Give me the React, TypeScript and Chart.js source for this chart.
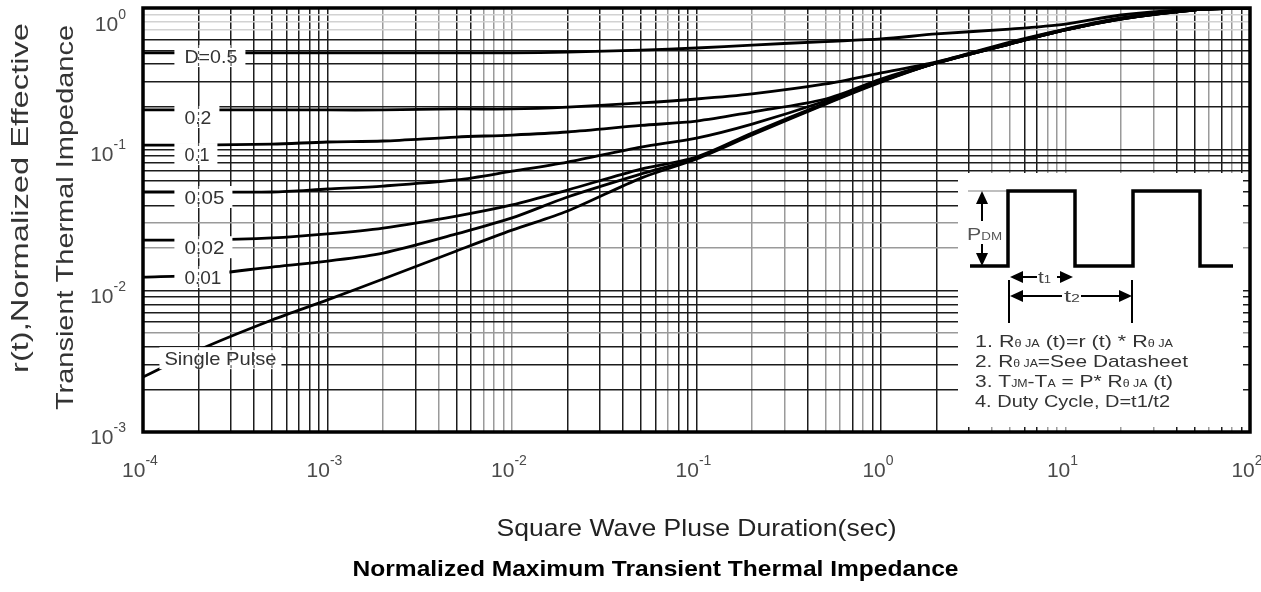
import React, { useEffect, useRef } from 'react';
import { Chart, registerables } from 'chart.js';

Chart.register(...registerables);

// ---------------- data ----------------
const PULSE_TIME = [1e-4, 2e-4, 5e-4, 1e-3, 2e-3, 5e-3, 1e-2, 2e-2, 5e-2, 0.1, 0.2, 0.5, 1, 2, 5, 10, 20, 50, 100];

const SERIES_NAMES = ['D=0.5', '0.2', '0.1', '0.05', '0.02', '0.01', 'Single Pulse'];

const R_D050 = [0.481, 0.481, 0.481, 0.481, 0.481, 0.481, 0.481, 0.488, 0.504, 0.521, 0.547, 0.579, 0.604, 0.655, 0.71, 0.77, 0.892, 0.984, 1.0];
const R_D020 = [0.19, 0.19, 0.19, 0.19, 0.19, 0.193, 0.193, 0.199, 0.213, 0.227, 0.2467, 0.29, 0.347, 0.415, 0.574, 0.71, 0.85, 0.976, 1.0];
const R_D010 = [0.1072, 0.1072, 0.109, 0.1127, 0.1145, 0.1222, 0.1262, 0.1326, 0.1476, 0.1585, 0.1837, 0.227, 0.3145, 0.412, 0.565, 0.705, 0.843, 0.972, 1.0];
const R_D005 = [0.0499, 0.0499, 0.0499, 0.0524, 0.055, 0.0607, 0.07, 0.0813, 0.1038, 0.1202, 0.151, 0.2197, 0.309, 0.408, 0.558, 0.7, 0.838, 0.969, 1.0];
const R_D002 = [0.0228, 0.0228, 0.0236, 0.0252, 0.0277, 0.0337, 0.0404, 0.0515, 0.0725, 0.0882, 0.1305, 0.2127, 0.304, 0.408, 0.557, 0.699, 0.837, 0.968, 1.0];
const R_D001 = [0.01248, 0.0129, 0.0147, 0.0162, 0.01845, 0.0252, 0.0327, 0.046, 0.0669, 0.0868, 0.1283, 0.2105, 0.302, 0.408, 0.556, 0.699, 0.836, 0.968, 1.0];
const R_SINGLE = [0.00245, 0.0038, 0.0062, 0.0086, 0.0121, 0.0191, 0.0268, 0.0366, 0.0626, 0.0854, 0.1262, 0.209, 0.299, 0.408, 0.556, 0.699, 0.836, 0.968, 1.0];

const SERIES = [R_D050, R_D020, R_D010, R_D005, R_D002, R_D001, R_SINGLE];

// curve label anchors (data units)
const LABEL_T_START = 1.48e-4;
const LABEL_VALUES = [0.457, 0.1694, 0.0926, 0.046, 0.0203, 0.01248, 0.00333];
const LABEL_WIDTHS = [53, 27, 25, 40, 40, 37, 112];

// axes
const X_MIN = 1e-4;
const X_MAX = 100;
const Y_MIN = 1e-3;
const Y_MAX = 1;
const X_MAJOR_EXP = [-4, -3, -2, -1, 0, 1, 2];
const Y_MAJOR_EXP = [-3, -2, -1, 0];
const GRID_MULT = [1, 2, 3, 4, 5, 6, 7, 8, 9];
const X_GRAY_GRID = [2e-3, 4e-3, 7e-3, 8e-3, 9e-3, 1e-2, 7e-2, 0.2, 0.3, 0.5, 0.6, 0.8, 4, 5, 8, 9, 10, 20, 30, 60, 80];
const Y_LIGHT_GRID = [0.7, 0.8, 0.9];
const Y_GRAY_GRID = [0.02, 0.03, 0.005];

const X_TITLE = 'Square Wave Pluse Duration(sec)';
const Y_TITLE_LINES = ['r(t),Normalized Effective', 'Transient Thermal Impedance'];
const CHART_TITLE = 'Normalized Maximum Transient Thermal Impedance';

const FAMILY = '"Liberation Sans", Arial, Helvetica, sans-serif';

// ---------------- helpers ----------------
function buildGrid(exps: number[]): number[] {
  const out: number[] = [];
  for (let i = 0; i < exps.length - 1; i++) {
    for (const m of GRID_MULT) out.push(Number((m * Math.pow(10, exps[i])).toPrecision(6)));
  }
  out.push(Math.pow(10, exps[exps.length - 1]));
  return out;
}
const X_GRID = buildGrid(X_MAJOR_EXP);
const Y_GRID = buildGrid(Y_MAJOR_EXP);

const inList = (list: number[], v: number) => list.some((g) => Math.abs(g - v) / g < 1e-6);

type Part = { t: string; size: number; dy?: number; bold?: boolean };

function fontOf(p: Part) {
  return `${p.bold ? 'bold ' : ''}${p.size}px ${FAMILY}`;
}

function partsWidth(ctx: CanvasRenderingContext2D, parts: Part[]) {
  let w = 0;
  for (const p of parts) {
    ctx.font = fontOf(p);
    w += ctx.measureText(p.t).width;
  }
  return w;
}

function drawParts(
  ctx: CanvasRenderingContext2D,
  parts: Part[],
  x: number,
  y: number,
  opts: { align: 'left' | 'center' | 'right'; width?: number; color: string; rotate?: number }
) {
  const natural = partsWidth(ctx, parts);
  const target = opts.width ?? natural;
  const sx = target / natural;
  ctx.save();
  ctx.translate(x, y);
  if (opts.rotate) ctx.rotate(opts.rotate);
  const start = opts.align === 'left' ? 0 : opts.align === 'center' ? -target / 2 : -target;
  ctx.translate(start, 0);
  ctx.scale(sx, 1);
  ctx.textAlign = 'left';
  ctx.textBaseline = 'alphabetic';
  ctx.fillStyle = opts.color;
  let cx = 0;
  for (const p of parts) {
    ctx.font = fontOf(p);
    ctx.fillText(p.t, cx, p.dy ?? 0);
    cx += ctx.measureText(p.t).width;
  }
  ctx.restore();
}

function arrowHead(ctx: CanvasRenderingContext2D, tipX: number, tipY: number, dir: 'up' | 'down' | 'left' | 'right', len = 12, half = 5) {
  ctx.beginPath();
  ctx.moveTo(tipX, tipY);
  if (dir === 'up') {
    ctx.lineTo(tipX - half, tipY + len);
    ctx.lineTo(tipX + half, tipY + len);
  } else if (dir === 'down') {
    ctx.lineTo(tipX - half, tipY - len);
    ctx.lineTo(tipX + half, tipY - len);
  } else if (dir === 'left') {
    ctx.lineTo(tipX + len, tipY - half);
    ctx.lineTo(tipX + len, tipY + half);
  } else {
    ctx.lineTo(tipX - len, tipY - half);
    ctx.lineTo(tipX - len, tipY + half);
  }
  ctx.closePath();
  ctx.fill();
}

function line(ctx: CanvasRenderingContext2D, pts: number[][]) {
  ctx.beginPath();
  ctx.moveTo(pts[0][0], pts[0][1]);
  for (let i = 1; i < pts.length; i++) ctx.lineTo(pts[i][0], pts[i][1]);
  ctx.stroke();
}

const overlayPlugin = {
  id: 'overlay',
  afterDatasetsDraw(chart: any) {
    const { ctx, chartArea: a, scales } = chart;
    const xs = scales.x;
    const ys = scales.y;
    ctx.save();

    // ---- curve labels with white boxes ----
    const boxLeft = xs.getPixelForValue(LABEL_T_START);
    SERIES_NAMES.forEach((name, i) => {
      const cy = ys.getPixelForValue(LABEL_VALUES[i]);
      const single = i === SERIES_NAMES.length - 1;
      const textLeft = single ? boxLeft - 10 : boxLeft + 10;
      const w = LABEL_WIDTHS[i];
      const bx0 = single ? boxLeft - 15 : boxLeft;
      const bx1 = textLeft + w + (single ? 5 : 8);
      ctx.fillStyle = '#fff';
      ctx.fillRect(bx0, cy - 11, bx1 - bx0, 22);
      ctx.save();
      ctx.setLineDash([3, 3]);
      ctx.strokeStyle = '#555';
      ctx.lineWidth = 1.2;
      for (const v of X_GRID) {
        const px = xs.getPixelForValue(v);
        if (px > bx0 + 2 && px < bx1 - 2) line(ctx, [[px, cy - 11], [px, cy + 11]]);
      }
      ctx.restore();
      drawParts(ctx, [{ t: name, size: 19 }], textLeft, cy + 7, { align: 'left', width: w, color: '#333' });
    });

    // ---- inset diagram ----
    const L = a.right - 292; // ~958
    const T = a.top + 165; // ~173
    ctx.fillStyle = '#fff';
    ctx.fillRect(L, T, a.right - 7 - L, a.bottom - 5 - T);

    const hi = T + 18;
    const lo = T + 93;
    ctx.strokeStyle = '#aaa';
    ctx.lineWidth = 1.5;
    line(ctx, [[L + 10, hi], [L + 49, hi]]);
    ctx.strokeStyle = '#000';
    ctx.lineWidth = 3.5;
    ctx.lineJoin = 'miter';
    line(ctx, [
      [L + 12, lo], [L + 50, lo], [L + 50, hi], [L + 117, hi], [L + 117, lo],
      [L + 175, lo], [L + 175, hi], [L + 242, hi], [L + 242, lo], [L + 275, lo],
    ]);
    ctx.fillStyle = '#000';
    ctx.lineWidth = 2;
    const ax = L + 24;
    line(ctx, [[ax, hi + 10], [ax, hi + 30]]);
    line(ctx, [[ax, lo - 10], [ax, lo - 22]]);
    arrowHead(ctx, ax, hi, 'up', 13, 6);
    arrowHead(ctx, ax, lo, 'down', 13, 6);
    drawParts(ctx, [{ t: 'P', size: 16 }, { t: 'DM', size: 10 }], L + 9, hi + 49, { align: 'left', width: 35, color: '#555' });

    const x1 = L + 52;
    const x2 = L + 115;
    const x3 = L + 174;
    const y1 = T + 104;
    const y2 = T + 123;
    ctx.lineWidth = 2;
    line(ctx, [[x1 - 1, y1 + 3], [x1 - 1, y2 + 27]]);
    line(ctx, [[x3, y1 + 3], [x3, y2 + 27]]);
    line(ctx, [[x1 + 10, y1], [x1 + 27, y1]]);
    line(ctx, [[x2 - 16, y1], [x2 - 10, y1]]);
    arrowHead(ctx, x1, y1, 'left', 13, 6);
    arrowHead(ctx, x2, y1, 'right', 13, 6);
    drawParts(ctx, [{ t: 't', size: 16 }, { t: '1', size: 10 }], x1 + 28, y1 + 6, { align: 'left', width: 13, color: '#444' });
    line(ctx, [[x1 + 10, y2], [x1 + 52, y2]]);
    line(ctx, [[x1 + 71, y2], [x3 - 10, y2]]);
    arrowHead(ctx, x1, y2, 'left', 13, 6);
    arrowHead(ctx, x3, y2, 'right', 13, 6);
    drawParts(ctx, [{ t: 't', size: 16 }, { t: '2', size: 10 }], x1 + 54, y2 + 6, { align: 'left', width: 16, color: '#444' });

    const nx = L + 17;
    const noteColor = '#333';
    drawParts(ctx, [
      { t: '1. R', size: 17 }, { t: 'θ JA', size: 10 }, { t: ' (t)=r (t) * R', size: 17 }, { t: 'θ JA', size: 10 },
    ], nx, T + 174, { align: 'left', width: 198, color: noteColor });
    drawParts(ctx, [
      { t: '2. R', size: 17 }, { t: 'θ JA', size: 10 }, { t: '=See Datasheet', size: 17 },
    ], nx, T + 194, { align: 'left', width: 213, color: noteColor });
    drawParts(ctx, [
      { t: '3. T', size: 17 }, { t: 'JM', size: 10 }, { t: '-T', size: 17 }, { t: 'A', size: 10 },
      { t: ' = P* R', size: 17 }, { t: 'θ JA', size: 10 }, { t: ' (t)', size: 17 },
    ], nx, T + 214, { align: 'left', width: 198, color: noteColor });
    drawParts(ctx, [{ t: '4. Duty Cycle, D=t1/t2', size: 17 }], nx, T + 234, { align: 'left', width: 195, color: noteColor });

    // ---- plot border ----
    ctx.strokeStyle = '#000';
    ctx.lineWidth = 3.5;
    ctx.strokeRect(a.left, a.top, a.right - a.left, a.bottom - a.top);

    // ---- tick labels ----
    for (const e of X_MAJOR_EXP) {
      const px = xs.getPixelForValue(Math.pow(10, e));
      drawParts(ctx, [{ t: '10', size: 21 }, { t: String(e), size: 14, dy: -12 }], px - 3, a.bottom + 45, { align: 'center', color: '#4a4a4a' });
    }
    for (const e of Y_MAJOR_EXP) {
      const py = ys.getPixelForValue(Math.pow(10, e));
      drawParts(ctx, [{ t: '10', size: 21 }, { t: String(e), size: 14, dy: -12 }], a.left - 17, Math.max(py + 12, a.top + 23), { align: 'right', color: '#4a4a4a' });
    }

    // ---- axis titles ----
    drawParts(ctx, [{ t: Y_TITLE_LINES[0], size: 24 }], 28, a.top + 15, { align: 'right', width: 350, color: '#333', rotate: -Math.PI / 2 });
    drawParts(ctx, [{ t: Y_TITLE_LINES[1], size: 24 }], 73, a.top + 17, { align: 'right', width: 385, color: '#333', rotate: -Math.PI / 2 });
    drawParts(ctx, [{ t: X_TITLE, size: 24 }], (a.left + a.right) / 2, a.bottom + 104, { align: 'center', width: 400, color: '#222' });
    drawParts(ctx, [{ t: CHART_TITLE, size: 22, bold: true }], (a.left + a.right) / 2 - 41, a.bottom + 144, { align: 'center', width: 606, color: '#000' });

    ctx.restore();
  },
};

export default function App() {
  const canvasRef = useRef<HTMLCanvasElement | null>(null);

  useEffect(() => {
    document.body.style.margin = '0';
    const canvas = canvasRef.current;
    if (!canvas) return;

    const datasets = SERIES_NAMES.map((name, i) => ({
      label: name,
      data: PULSE_TIME.map((t, j) => ({ x: t, y: SERIES[i][j] })),
      borderColor: '#000',
      borderWidth: 2.8,
      pointRadius: 0,
      fill: false,
      tension: 0.3,
    }));

    const gridColorX = (c: any) => {
      const v = c.tick?.value;
      if (v === undefined) return '#1c1c1c';
      return inList(X_GRAY_GRID, v) ? '#9a9a9a' : '#1c1c1c';
    };
    const gridColorY = (c: any) => {
      const v = c.tick?.value;
      if (v === undefined) return '#1c1c1c';
      if (inList(Y_LIGHT_GRID, v)) return '#d2d2d2';
      if (inList(Y_GRAY_GRID, v)) return '#9a9a9a';
      return '#1c1c1c';
    };

    const chart = new Chart(canvas, {
      type: 'line',
      data: { datasets },
      options: {
        animation: false,
        responsive: false,
        layout: { padding: { top: 8, right: 11, left: 0, bottom: 0 } },
        plugins: { legend: { display: false }, tooltip: { enabled: false }, title: { display: false } },
        elements: { point: { radius: 0 } },
        scales: {
          x: {
            type: 'logarithmic',
            position: 'bottom',
            min: X_MIN,
            max: X_MAX,
            afterBuildTicks: (s: any) => {
              s.ticks = X_GRID.map((v) => ({ value: v }));
            },
            afterFit: (s: any) => {
              s.height = 160;
            },
            ticks: { display: false },
            grid: { color: gridColorX, lineWidth: 1.5, drawTicks: false },
            border: { display: false },
          },
          y: {
            type: 'logarithmic',
            position: 'left',
            min: Y_MIN,
            max: Y_MAX,
            afterBuildTicks: (s: any) => {
              s.ticks = Y_GRID.map((v) => ({ value: v }));
            },
            afterFit: (s: any) => {
              s.width = 143;
            },
            ticks: { display: false },
            grid: { color: gridColorY, lineWidth: 1.5, drawTicks: false },
            border: { display: false },
          },
        },
      } as any,
      plugins: [overlayPlugin],
    });

    return () => chart.destroy();
  }, []);

  return (
    <div style={{ position: 'absolute', left: 0, top: 0, width: 1261, height: 592, background: '#fff' }}>
      <canvas ref={canvasRef} width={1261} height={592} />
    </div>
  );
}
